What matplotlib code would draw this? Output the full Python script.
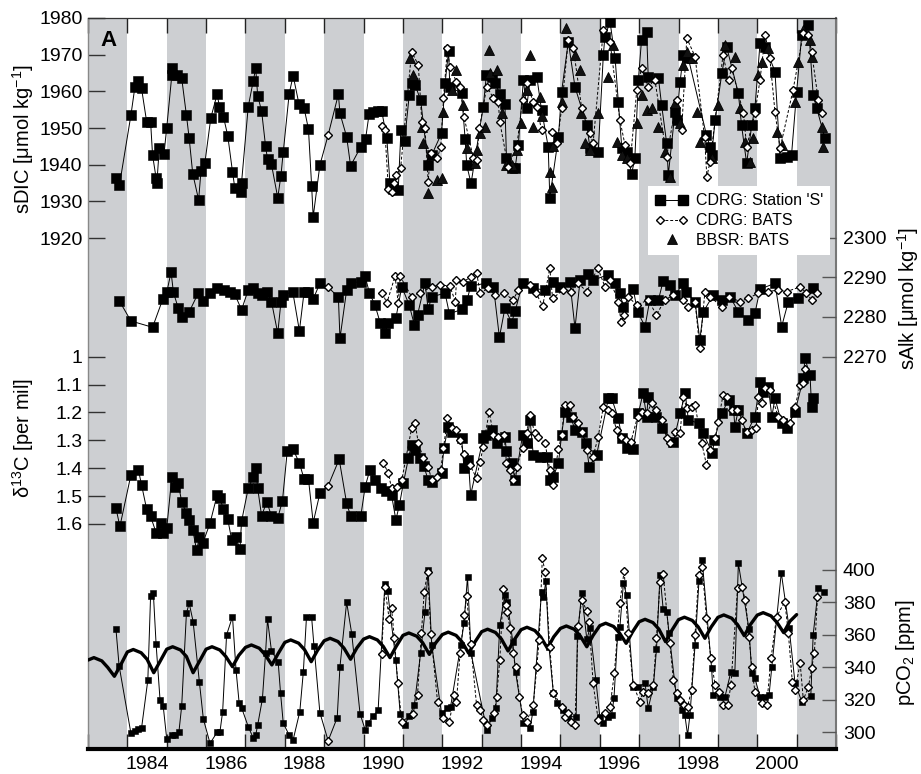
import numpy as np
import matplotlib
matplotlib.use('Agg')
import matplotlib.pyplot as plt
from matplotlib.lines import Line2D
from matplotlib.legend_handler import HandlerLine2D

plt.rcParams['font.family'] = ['Liberation Sans', 'DejaVu Sans']
plt.rcParams['mathtext.fontset'] = 'custom'
plt.rcParams['mathtext.rm'] = 'Liberation Sans'
plt.rcParams['mathtext.it'] = 'Liberation Sans:italic'
plt.rcParams['mathtext.bf'] = 'Liberation Sans:bold'

# ---------------- sDIC ----------------
dic_s_t = [1983.71, 1983.80, 1984.09, 1984.19, 1984.28, 1984.36, 1984.49, 1984.59, 1984.64, 1984.73,
           1984.75, 1984.81, 1984.93, 1985.00, 1985.13, 1985.14, 1985.25, 1985.38, 1985.50, 1985.57,
           1985.66, 1985.81, 1985.87, 1985.97, 1986.12, 1986.28, 1986.34, 1986.44, 1986.55, 1986.67,
           1986.73, 1986.89, 1986.90, 1987.07, 1987.20, 1987.26, 1987.31, 1987.41, 1987.51, 1987.56,
           1987.66, 1987.82, 1987.90, 1987.96, 1988.11, 1988.21, 1988.36, 1988.49, 1988.60, 1988.68,
           1988.72, 1988.89, 1989.36, 1989.40, 1989.57, 1989.67, 1989.93, 1990.05, 1990.14, 1990.25,
           1990.36, 1990.46, 1990.59, 1990.67, 1990.76, 1990.88, 1990.95, 1991.04, 1991.16, 1991.22,
           1991.31, 1991.45, 1991.64, 1991.73, 1991.98, 1992.07, 1992.16, 1992.19, 1992.49, 1992.58,
           1992.62, 1992.73, 1993.04, 1993.12, 1993.25, 1993.34, 1993.46, 1993.59, 1993.63, 1993.76,
           1993.85, 1993.93, 1994.06, 1994.14, 1994.23, 1994.40, 1994.52, 1994.69, 1994.73, 1994.95,
           1995.03, 1995.20, 1995.37, 1995.67, 1995.75, 1995.96, 1996.09, 1996.13, 1996.26, 1996.39,
           1996.47, 1996.56, 1996.68, 1996.81, 1996.89, 1996.98, 1997.06, 1997.19, 1997.23, 1997.49,
           1997.57, 1997.70, 1997.74, 1997.91, 1997.95, 1998.04, 1998.12, 1998.25, 1998.71, 1998.80,
           1998.84, 1998.93, 1999.10, 1999.22, 1999.52, 1999.60, 1999.73, 1999.86, 1999.94, 2000.07,
           2000.20, 2000.45, 2000.58, 2000.75, 2000.87, 2001.00, 2001.13, 2001.30, 2001.42, 2001.51,
           2001.72]
dic_s = [1936.3, 1934.5, 1953.5, 1961.1, 1962.9, 1960.8, 1951.7, 1951.7, 1942.6, 1936.3,
         1935.0, 1944.5, 1942.9, 1950.1, 1964.5, 1966.3, 1964.5, 1963.6, 1953.5, 1947.2,
         1937.6, 1930.4, 1938.3, 1940.6, 1952.8, 1959.2, 1955.8, 1953.1, 1947.9, 1938.1,
         1933.6, 1932.6, 1935.1, 1955.8, 1962.9, 1966.3, 1958.8, 1954.6, 1945.1, 1941.5,
         1940.1, 1931.0, 1937.0, 1943.5, 1959.3, 1964.3, 1956.5, 1955.4, 1949.7, 1934.3,
         1925.8, 1939.9, 1959.2, 1954.0, 1947.6, 1939.7, 1944.9, 1947.0, 1953.8, 1954.4,
         1954.7, 1954.7, 1947.2, 1935.1, 1933.3, 1933.1, 1949.6, 1946.4, 1959.0, 1962.2,
         1961.7, 1957.6, 1939.9, 1942.6, 1948.6, 1962.2, 1971.1, 1961.2, 1959.5, 1946.9,
         1939.9, 1934.9, 1955.8, 1964.5, 1964.0, 1962.2, 1959.3, 1956.5, 1941.7, 1939.0,
         1939.2, 1945.4, 1963.1, 1955.4, 1963.1, 1964.0, 1954.9, 1944.9, 1931.0, 1947.6,
         1959.9, 1973.5, 1961.2, 1950.8, 1944.5, 1943.5, 1969.9, 1974.9, 1979.0, 1969.0,
         1957.2, 1944.5, 1943.5, 1937.6, 1941.7, 1963.1, 1974.0, 1976.3, 1964.0, 1963.6,
         1956.3, 1945.8, 1937.2, 1954.4, 1952.2, 1962.6, 1969.9, 1969.0, 1948.1, 1944.9,
         1942.6, 1952.2, 1964.9, 1972.2, 1959.5, 1950.8, 1940.4, 1950.8, 1955.4, 1973.1,
         1972.2, 1965.4, 1941.7, 1942.2, 1942.6, 1959.9, 1975.4, 1978.1, 1959.0, 1955.4,
         1947.2]

dic_b_t = [1990.48, 1990.54, 1990.63, 1990.71, 1990.78, 1990.82, 1990.94, 1991.22, 1991.39, 1991.48,
           1991.56, 1991.64, 1991.70, 1991.87, 1991.96, 1992.03, 1992.13, 1992.19, 1992.36, 1992.45,
           1992.55, 1992.79, 1992.87, 1992.94, 1993.13, 1993.30, 1993.42, 1993.46, 1993.67, 1993.89,
           1994.04, 1994.14, 1994.31, 1994.40, 1994.52, 1994.78, 1994.92, 1995.03, 1995.20, 1995.33,
           1995.54, 1995.75, 1995.83, 1996.09, 1996.26, 1996.51, 1996.64, 1996.77, 1996.94, 1997.06,
           1997.23, 1997.40, 1997.70, 1997.95, 1998.08, 1998.21, 1998.42, 1998.66, 1998.72, 1998.80,
           1999.13, 1999.27, 1999.35, 1999.65, 1999.73, 1999.94, 2000.07, 2000.20, 2000.32, 2000.45,
           2000.58, 2000.91, 2001.17, 2001.30, 2001.38, 2001.55, 2001.64]
dic_b = [1950.5, 1949.4, 1933.5, 1932.6, 1934.9, 1937.2, 1939.0, 1970.8, 1967.2, 1951.7,
         1949.9, 1935.4, 1943.1, 1941.7, 1944.9, 1958.3, 1971.7, 1966.7, 1962.6, 1961.3,
         1953.1, 1941.7, 1941.3, 1949.9, 1961.3, 1958.1, 1957.2, 1951.7, 1939.5, 1944.9,
         1957.6, 1962.2, 1957.2, 1955.8, 1949.4, 1949.0, 1945.8, 1955.4, 1974.0, 1971.7,
         1955.4, 1948.6, 1945.8, 1976.7, 1973.5, 1952.2, 1945.4, 1940.4, 1960.4, 1966.3,
         1961.3, 1963.1, 1942.2, 1957.6, 1949.4, 1974.5, 1969.5, 1947.6, 1936.7, 1940.8,
         1969.9, 1963.1, 1966.3, 1954.0, 1944.9, 1954.0, 1963.1, 1975.4, 1969.0, 1954.4,
         1944.5, 1960.4, 1975.8, 1975.4, 1970.8, 1957.6, 1954.0]

dic_bbsr_t = [1991.18, 1991.26, 1991.48, 1991.52, 1991.64, 1991.87, 1991.98, 1992.03, 1992.24, 1992.36,
              1992.53, 1992.62, 1992.83, 1992.87, 1992.96, 1993.08, 1993.19, 1993.21, 1993.38, 1993.51,
              1993.63, 1993.76, 1993.89, 1994.01, 1994.14, 1994.23, 1994.31, 1994.48, 1994.53, 1994.73,
              1994.78, 1994.80, 1995.03, 1995.14, 1995.37, 1995.50, 1995.52, 1995.62, 1995.75, 1995.96,
              1996.22, 1996.34, 1996.43, 1996.56, 1996.68, 1996.94, 1997.06, 1997.19, 1997.32, 1997.49,
              1997.65, 1997.78, 1997.91, 1998.04, 1998.12, 1998.21, 1998.33, 1998.46, 1998.54, 1998.84,
              1999.01, 1999.18, 1999.43, 1999.56, 1999.69, 1999.81, 1999.90, 2000.03, 2000.11, 2000.28,
              2000.49, 2000.62, 2000.96, 2001.04, 2001.17, 2001.34, 2001.38, 2001.64, 2001.68]
dic_bbsr = [1969.0, 1964.5, 1950.4, 1945.8, 1932.2, 1935.8, 1936.3, 1954.4, 1960.4, 1965.8,
            1956.3, 1944.5, 1940.4, 1944.0, 1948.6, 1950.4, 1971.3, 1964.9, 1965.8, 1954.0,
            1939.9, 1939.9, 1944.0, 1951.3, 1960.4, 1969.9, 1950.4, 1958.5, 1953.3, 1938.1,
            1934.0, 1945.0, 1957.2, 1977.2, 1969.9, 1965.8, 1954.0, 1945.8, 1944.0, 1954.0,
            1964.0, 1972.6, 1946.3, 1942.6, 1941.7, 1951.3, 1959.0, 1954.9, 1955.4, 1950.4,
            1943.5, 1936.7, 1956.7, 1951.3, 1967.2, 1970.8, 1969.0, 1954.4, 1946.3, 1941.7,
            1956.3, 1972.6, 1969.5, 1955.4, 1946.3, 1940.8, 1947.2, 1964.5, 1968.1, 1971.7,
            1949.0, 1945.4, 1957.2, 1968.1, 1976.7, 1974.0, 1969.5, 1950.4, 1944.9]

# ---------------- sAlk ----------------
alk_s_t = [1983.80, 1984.09, 1984.64, 1984.90, 1985.00, 1985.11, 1985.17, 1985.29, 1985.38, 1985.57,
           1985.80, 1985.93, 1986.10, 1986.28, 1986.46, 1986.61, 1986.73, 1986.90, 1987.07, 1987.20,
           1987.33, 1987.41, 1987.54, 1987.66, 1987.82, 1987.90, 1987.96, 1988.20, 1988.37, 1988.49,
           1988.60, 1988.72, 1988.89, 1989.36, 1989.40, 1989.57, 1989.67, 1989.93, 1990.04, 1990.15,
           1990.29, 1990.42, 1990.54, 1990.63, 1990.82, 1990.97, 1991.16, 1991.29, 1991.37, 1991.56,
           1991.64, 1991.73, 1992.07, 1992.18, 1992.49, 1992.63, 1992.72, 1993.11, 1993.30, 1993.45,
           1993.59, 1993.76, 1993.85, 1994.04, 1994.31, 1994.61, 1994.82, 1994.99, 1995.24, 1995.37,
           1995.50, 1995.71, 1995.83, 1996.20, 1996.39, 1996.51, 1996.60, 1996.85, 1996.96, 1997.15,
           1997.27, 1997.49, 1997.61, 1997.78, 1997.91, 1998.12, 1998.18, 1998.42, 1998.54, 1998.63,
           1998.88, 1999.10, 1999.31, 1999.52, 1999.77, 1999.94, 2000.07, 2000.45, 2000.62, 2000.79,
           2001.04, 2001.42]
alk_s = [2284.0, 2279.0, 2277.4, 2284.5, 2286.2, 2291.3, 2286.2, 2282.3, 2279.9, 2281.3,
         2286.0, 2284.0, 2286.0, 2287.2, 2286.8, 2286.4, 2285.7, 2281.8, 2286.8, 2287.2,
         2286.0, 2285.5, 2286.4, 2283.9, 2275.9, 2283.7, 2285.5, 2286.4, 2276.5, 2286.4,
         2286.4, 2284.5, 2288.5, 2285.0, 2274.6, 2286.8, 2288.6, 2288.9, 2290.2, 2286.0,
         2283.0, 2278.6, 2275.9, 2278.6, 2279.7, 2287.6, 2283.0, 2278.0, 2280.5, 2288.6,
         2281.9, 2285.1, 2286.0, 2280.8, 2281.9, 2284.3, 2287.8, 2288.5, 2287.6, 2274.9,
         2282.2, 2278.6, 2281.5, 2288.5, 2287.2, 2286.8, 2288.9, 2287.6, 2288.9, 2277.2,
         2289.3, 2290.8, 2289.3, 2290.6, 2288.5, 2286.0, 2282.6, 2287.0, 2281.3, 2277.6,
         2284.3, 2284.3, 2289.1, 2288.1, 2285.5, 2288.5, 2286.4, 2283.9, 2274.2, 2281.3,
         2285.5, 2284.3, 2285.1, 2281.3, 2279.2, 2280.9, 2287.0, 2288.5, 2277.6, 2283.9,
         2284.7, 2287.2]

alk_b_t = [1990.48, 1990.59, 1990.80, 1990.88, 1990.93, 1991.22, 1991.43, 1991.73, 1991.94, 1992.19,
           1992.33, 1992.36, 1992.53, 1992.72, 1992.87, 1992.96, 1993.17, 1993.34, 1993.57, 1993.80,
           1993.93, 1994.23, 1994.38, 1994.55, 1994.73, 1994.80, 1995.07, 1995.28, 1995.45, 1995.67,
           1995.95, 1996.13, 1996.26, 1996.47, 1996.54, 1996.62, 1996.72, 1996.94, 1997.23, 1997.44,
           1997.65, 1997.87, 1998.12, 1998.25, 1998.42, 1998.54, 1998.67, 1998.80, 1999.10, 1999.27,
           1999.56, 1999.77, 2000.03, 2000.28, 2000.53, 2000.75, 2001.09, 2001.25, 2001.38, 2001.53]
alk_b = [2286.0, 2283.5, 2290.3, 2283.5, 2290.2, 2285.1, 2286.0, 2287.6, 2288.1, 2287.8,
         2283.9, 2289.3, 2288.9, 2290.0, 2291.2, 2286.1, 2287.2, 2285.5, 2286.0, 2284.3,
         2286.8, 2288.1, 2286.0, 2282.8, 2292.3, 2284.7, 2286.8, 2286.4, 2288.5, 2286.4,
         2292.4, 2287.6, 2289.3, 2283.9, 2278.8, 2280.5, 2285.1, 2283.0, 2284.3, 2280.5,
         2284.3, 2285.5, 2284.3, 2282.6, 2283.9, 2272.1, 2286.4, 2285.1, 2282.6, 2285.1,
         2283.9, 2284.7, 2286.0, 2286.4, 2286.8, 2286.4, 2287.6, 2286.0, 2284.3, 2286.0]

# ---------------- d13C ----------------
c13_s_t = [1983.71, 1983.81, 1984.09, 1984.28, 1984.36, 1984.49, 1984.59, 1984.73, 1984.85, 1984.91,
           1985.00, 1985.13, 1985.21, 1985.29, 1985.38, 1985.50, 1985.57, 1985.66, 1985.76, 1985.83,
           1985.92, 1986.10, 1986.28, 1986.35, 1986.44, 1986.55, 1986.65, 1986.75, 1986.86, 1986.90,
           1987.07, 1987.20, 1987.26, 1987.31, 1987.41, 1987.54, 1987.66, 1987.82, 1987.94, 1988.06,
           1988.21, 1988.37, 1988.49, 1988.60, 1988.72, 1988.89, 1989.38, 1989.57, 1989.67, 1989.93,
           1990.04, 1990.16, 1990.29, 1990.44, 1990.57, 1990.71, 1990.82, 1990.91, 1991.01, 1991.14,
           1991.22, 1991.31, 1991.43, 1991.53, 1991.64, 1991.73, 1991.98, 1992.04, 1992.15, 1992.24,
           1992.49, 1992.55, 1992.66, 1992.72, 1993.04, 1993.12, 1993.25, 1993.38, 1993.59, 1993.63,
           1993.76, 1993.85, 1994.04, 1994.14, 1994.23, 1994.31, 1994.48, 1994.65, 1994.73, 1994.82,
           1994.95, 1995.03, 1995.11, 1995.26, 1995.37, 1995.54, 1995.65, 1995.73, 1995.92, 1996.22,
           1996.30, 1996.47, 1996.56, 1996.68, 1996.85, 1996.98, 1997.10, 1997.19, 1997.23, 1997.44,
           1997.57, 1997.87, 1998.04, 1998.17, 1998.25, 1998.52, 1998.63, 1998.86, 1998.91, 1999.10,
           1999.27, 1999.40, 1999.43, 1999.52, 1999.73, 1999.94, 2000.07, 2000.15, 2000.28, 2000.37,
           2000.45, 2000.62, 2000.75, 2000.96, 2001.17, 2001.21, 2001.34, 2001.38, 2001.42]
c13_s = [1.543, 1.609, 1.424, 1.406, 1.460, 1.547, 1.573, 1.631, 1.597, 1.631,
         1.615, 1.430, 1.466, 1.454, 1.520, 1.561, 1.585, 1.621, 1.695, 1.645,
         1.667, 1.597, 1.496, 1.508, 1.547, 1.583, 1.657, 1.645, 1.690, 1.591,
         1.472, 1.430, 1.400, 1.472, 1.571, 1.520, 1.571, 1.579, 1.516, 1.340,
         1.332, 1.382, 1.439, 1.439, 1.595, 1.490, 1.368, 1.526, 1.571, 1.571,
         1.466, 1.406, 1.442, 1.472, 1.480, 1.496, 1.585, 1.532, 1.454, 1.364,
         1.316, 1.334, 1.364, 1.392, 1.442, 1.451, 1.418, 1.328, 1.251, 1.269,
         1.292, 1.400, 1.370, 1.496, 1.292, 1.281, 1.263, 1.310, 1.287, 1.340,
         1.382, 1.442, 1.281, 1.310, 1.227, 1.352, 1.358, 1.358, 1.442, 1.430,
         1.382, 1.281, 1.197, 1.215, 1.263, 1.269, 1.308, 1.394, 1.352, 1.149,
         1.149, 1.221, 1.292, 1.328, 1.332, 1.203, 1.131, 1.215, 1.143, 1.215,
         1.257, 1.305, 1.203, 1.131, 1.227, 1.239, 1.275, 1.346, 1.299, 1.203,
         1.155, 1.191, 1.251, 1.191, 1.275, 1.215, 1.090, 1.125, 1.108, 1.215,
         1.149, 1.239, 1.257, 1.197, 1.078, 1.006, 1.066, 1.179, 1.149]

c13_b_t = [1990.50, 1990.63, 1990.71, 1990.84, 1990.97, 1991.22, 1991.31, 1991.39, 1991.52, 1991.64,
           1991.73, 1991.87, 1991.96, 1992.03, 1992.13, 1992.24, 1992.36, 1992.45, 1992.55, 1992.70,
           1992.87, 1992.96, 1993.04, 1993.19, 1993.30, 1993.42, 1993.57, 1993.63, 1993.72, 1993.80,
           1993.89, 1994.04, 1994.14, 1994.23, 1994.35, 1994.44, 1994.61, 1994.73, 1994.80, 1994.95,
           1995.03, 1995.11, 1995.24, 1995.33, 1995.45, 1995.54, 1995.67, 1995.83, 1995.96, 1996.09,
           1996.22, 1996.30, 1996.43, 1996.54, 1996.66, 1996.79, 1996.96, 1997.06, 1997.19, 1997.32,
           1997.44, 1997.57, 1997.70, 1997.78, 1997.91, 1998.04, 1998.12, 1998.21, 1998.33, 1998.42,
           1998.59, 1998.71, 1998.80, 1998.93, 1999.01, 1999.13, 1999.22, 1999.35, 1999.48, 1999.60,
           1999.73, 1999.86, 1999.97, 2000.03, 2000.11, 2000.20, 2000.32, 2000.53, 2000.66, 2000.83,
           2000.96, 2001.09, 2001.17, 2001.21]
c13_b = [1.380, 1.418, 1.472, 1.466, 1.442, 1.257, 1.239, 1.310, 1.364, 1.394,
         1.442, 1.430, 1.406, 1.328, 1.221, 1.257, 1.263, 1.299, 1.349, 1.388,
         1.436, 1.376, 1.323, 1.197, 1.281, 1.287, 1.281, 1.382, 1.406, 1.442,
         1.394, 1.328, 1.275, 1.209, 1.275, 1.287, 1.310, 1.406, 1.460, 1.332,
         1.281, 1.173, 1.173, 1.215, 1.239, 1.269, 1.334, 1.358, 1.287, 1.179,
         1.191, 1.203, 1.263, 1.287, 1.299, 1.305, 1.215, 1.197, 1.203, 1.167,
         1.191, 1.227, 1.292, 1.310, 1.269, 1.275, 1.143, 1.185, 1.179, 1.173,
         1.310, 1.388, 1.334, 1.292, 1.233, 1.137, 1.143, 1.191, 1.191, 1.227,
         1.269, 1.263, 1.257, 1.143, 1.167, 1.113, 1.119, 1.215, 1.227, 1.239,
         1.179, 1.101, 1.095, 1.045]

# ---------------- pCO2 ----------------
pco2_s_t = [1983.71, 1983.79, 1984.09, 1984.19, 1984.28, 1984.36, 1984.52, 1984.59, 1984.66, 1984.73,
            1984.83, 1984.91, 1985.00, 1985.13, 1985.21, 1985.31, 1985.38, 1985.50, 1985.57, 1985.67,
            1985.83, 1985.93, 1986.10, 1986.28, 1986.35, 1986.42, 1986.52, 1986.67, 1986.76, 1986.84,
            1986.90, 1987.07, 1987.20, 1987.26, 1987.31, 1987.43, 1987.51, 1987.56, 1987.66, 1987.83,
            1987.89, 1987.96, 1988.11, 1988.21, 1988.38, 1988.47, 1988.55, 1988.68, 1988.74, 1988.89,
            1989.33, 1989.40, 1989.57, 1989.70, 1989.91, 1990.04, 1990.12, 1990.25, 1990.37, 1990.54,
            1990.61, 1990.82, 1990.93, 1991.04, 1991.16, 1991.29, 1991.45, 1991.56, 1991.64, 1991.73,
            1991.98, 1992.13, 1992.21, 1992.47, 1992.55, 1992.64, 1992.73, 1993.13, 1993.25, 1993.36,
            1993.46, 1993.59, 1993.65, 1993.79, 1993.86, 1994.06, 1994.23, 1994.30, 1994.52, 1994.57,
            1994.63, 1994.71, 1994.82, 1994.92, 1995.07, 1995.20, 1995.40, 1995.43, 1995.54, 1995.67,
            1995.75, 1995.90, 1996.00, 1996.09, 1996.22, 1996.30, 1996.36, 1996.45, 1996.51, 1996.60,
            1996.68, 1996.85, 1996.98, 1997.15, 1997.23, 1997.36, 1997.44, 1997.53, 1997.61, 1997.70,
            1997.76, 1997.95, 1998.08, 1998.16, 1998.23, 1998.29, 1998.42, 1998.52, 1998.60, 1998.84,
            1998.88, 1999.05, 1999.18, 1999.33, 1999.43, 1999.52, 1999.79, 1999.86, 1999.94, 2000.07,
            2000.20, 2000.30, 2000.37, 2000.61, 2000.81, 2000.96, 2001.13, 2001.36, 2001.42, 2001.55,
            2001.70]
pco2_s = [363.6, 341.0, 299.4, 301.0, 301.8, 302.5, 332.2, 384.2, 385.6, 354.2,
          319.9, 316.2, 295.9, 298.3, 298.3, 300.4, 316.2, 373.3, 379.5, 368.2,
          330.8, 308.2, 293.2, 300.0, 300.0, 312.7, 360.0, 371.2, 338.4, 317.9,
          315.2, 303.5, 296.3, 298.3, 304.5, 320.5, 348.7, 369.6, 350.1, 343.5,
          324.4, 305.5, 298.3, 295.3, 312.7, 337.3, 371.2, 370.9, 353.2, 312.1,
          309.0, 340.4, 380.1, 360.6, 311.5, 301.6, 306.0, 310.1, 313.7, 391.2,
          386.8, 344.5, 311.5, 304.5, 310.0, 316.8, 349.1, 374.3, 400.2, 353.8,
          311.7, 314.8, 315.8, 353.8, 367.2, 395.9, 348.7, 301.4, 308.6, 314.8,
          366.1, 384.6, 380.5, 355.8, 337.3, 305.9, 302.5, 312.7, 386.6, 383.2,
          393.2, 352.4, 324.4, 317.9, 313.7, 309.6, 309.6, 359.3, 385.6, 357.3,
          364.1, 332.2, 309.6, 305.5, 309.6, 310.7, 320.9, 358.9, 364.7, 391.8,
          384.6, 328.1, 328.1, 330.2, 314.8, 328.1, 351.1, 396.9, 375.8, 374.3,
          361.0, 320.9, 313.7, 310.7, 298.3, 310.7, 353.8, 393.4, 406.2, 339.4,
          323.0, 321.9, 321.9, 337.3, 336.4, 404.1, 363.5, 336.4, 333.3, 321.9,
          321.9, 323.0, 340.4, 398.3, 364.1, 330.2, 318.9, 322.4, 360.0, 388.7,
          386.6]

pco2_b_t = [1990.46, 1990.54, 1990.65, 1990.71, 1990.78, 1990.87, 1990.97, 1991.25, 1991.37, 1991.47,
            1991.54, 1991.63, 1991.71, 1991.88, 1992.01, 1992.18, 1992.30, 1992.36, 1992.45, 1992.56,
            1992.62, 1992.72, 1992.87, 1992.96, 1993.04, 1993.13, 1993.32, 1993.38, 1993.46, 1993.55,
            1993.61, 1993.65, 1993.72, 1993.79, 1993.86, 1993.96, 1994.04, 1994.14, 1994.31, 1994.40,
            1994.46, 1994.54, 1994.61, 1994.73, 1994.82, 1995.03, 1995.11, 1995.20, 1995.28, 1995.37,
            1995.45, 1995.54, 1995.67, 1995.73, 1995.83, 1995.96, 1996.13, 1996.26, 1996.37, 1996.51,
            1996.62, 1996.72, 1996.85, 1997.02, 1997.10, 1997.23, 1997.36, 1997.44, 1997.53, 1997.61,
            1997.78, 1997.87, 1997.95, 1998.04, 1998.15, 1998.23, 1998.33, 1998.42, 1998.51, 1998.60,
            1998.71, 1998.82, 1998.93, 1999.03, 1999.14, 1999.25, 1999.33, 1999.50, 1999.60, 1999.70,
            1999.79, 1999.86, 1999.94, 2000.11, 2000.24, 2000.35, 2000.49, 2000.70, 2000.79, 2000.89,
            2000.96, 2001.09, 2001.17, 2001.30, 2001.38, 2001.45, 2001.53]
pco2_b = [348.1, 389.7, 369.6, 376.4, 357.9, 330.2, 306.5, 311.3, 323.0, 361.4,
          386.6, 399.0, 360.4, 318.5, 308.6, 306.5, 323.0, 318.9, 348.7, 372.3,
          384.0, 354.4, 316.8, 313.7, 307.6, 304.5, 311.7, 321.9, 344.5, 388.1,
          378.4, 373.9, 364.1, 348.7, 340.4, 321.9, 310.7, 306.5, 316.8, 340.4,
          356.9, 407.2, 399.0, 352.7, 324.4, 315.8, 309.6, 311.7, 306.5, 304.5,
          365.5, 381.5, 374.9, 368.2, 330.2, 307.6, 311.7, 315.8, 336.4, 379.9,
          399.6, 361.0, 329.1, 318.9, 325.0, 324.0, 329.1, 357.9, 392.8, 397.3,
          354.8, 332.2, 324.0, 319.9, 316.8, 315.8, 326.1, 360.0, 396.9, 402.1,
          370.2, 345.6, 329.1, 325.0, 316.8, 316.8, 329.1, 388.7, 389.7, 381.5,
          358.9, 340.4, 325.0, 317.9, 316.8, 345.6, 371.2, 380.5, 361.0, 331.2,
          326.1, 342.5, 320.0, 328.1, 339.4, 348.7, 383.2]

# atmospheric pCO2 (thick line), 6 readings per year
atm_t = [1983.0, 1983.15, 1983.35, 1983.5, 1983.67, 1983.83,
         1984.0, 1984.15, 1984.35, 1984.5, 1984.67, 1984.83,
         1985.0, 1985.15, 1985.35, 1985.5, 1985.67, 1985.83,
         1986.0, 1986.15, 1986.35, 1986.5, 1986.67, 1986.83,
         1987.0, 1987.15, 1987.35, 1987.5, 1987.67, 1987.83,
         1988.0, 1988.15, 1988.35, 1988.5, 1988.67, 1988.83,
         1989.0, 1989.15, 1989.35, 1989.5, 1989.67, 1989.83,
         1990.0, 1990.15, 1990.35, 1990.5, 1990.67, 1990.83,
         1991.0, 1991.15, 1991.35, 1991.5, 1991.67, 1991.83,
         1992.0, 1992.15, 1992.35, 1992.5, 1992.67, 1992.83,
         1993.0, 1993.15, 1993.35, 1993.5, 1993.67, 1993.83,
         1994.0, 1994.15, 1994.35, 1994.5, 1994.67, 1994.83,
         1995.0, 1995.15, 1995.35, 1995.5, 1995.67, 1995.83,
         1996.0, 1996.15, 1996.35, 1996.5, 1996.67, 1996.83,
         1997.0, 1997.15, 1997.35, 1997.5, 1997.67, 1997.83,
         1998.0, 1998.15, 1998.35, 1998.5, 1998.67, 1998.83,
         1999.0, 1999.15, 1999.35, 1999.5, 1999.67, 1999.83,
         2000.0, 2000.15, 2000.35, 2000.5, 2000.67, 2000.83,
         2001.0]
atm = [344.5, 346.0, 344.0, 340.0, 334.5, 341.5,
       349.5, 351.0, 349.0, 345.0, 336.7, 343.7,
       351.2, 352.7, 350.7, 346.7, 336.7, 343.7,
       351.2, 352.7, 350.7, 346.7, 340.4, 347.4,
       352.3, 353.8, 351.8, 347.8, 341.5, 348.5,
       355.4, 356.9, 354.9, 350.9, 343.5, 350.5,
       356.4, 357.9, 355.9, 351.9, 345.0, 352.0,
       357.4, 358.9, 356.9, 352.9, 346.0, 353.0,
       359.7, 361.2, 359.2, 355.2, 348.0, 355.0,
       360.2, 361.7, 359.7, 355.7, 348.7, 355.7,
       362.0, 363.5, 361.5, 357.5, 350.1, 357.1,
       363.2, 364.7, 362.7, 358.7, 351.8, 358.8,
       364.0, 365.5, 363.5, 359.5, 352.7, 359.7,
       365.7, 367.2, 365.2, 361.2, 354.8, 361.8,
       368.1, 369.6, 367.6, 363.6, 355.8, 362.8,
       369.4, 370.9, 368.9, 364.9, 357.9, 364.9,
       370.8, 372.3, 370.3, 366.3, 359.5, 366.5,
       372.2, 373.7, 371.7, 367.7, 361.4, 368.4,
       372.5]

# single BATS sample in 1989 that sits on the Station 'S' line
odd_t = 1989.10
odd_dic, odd_alk, odd_c13, odd_pco2 = 1948.1, 2287.5, 1.463, 294.8

years_lab = list(range(1984, 2001, 2))

# ---------------- figure ----------------
fig = plt.figure(figsize=(9.21, 7.74), dpi=100)
ax = fig.add_axes([88 / 921, 25 / 774, 748 / 921, 731 / 774])
ax_alk = ax.twinx()
ax_c13 = ax.twinx()
ax_pco2 = ax.twinx()

band = '#cdcfd2'
for y in range(1983, 2002, 2):
    ax.axvspan(y, y + 1, color=band, lw=0, zorder=0)

ax.set_xlim(1983, 2002)
ax.set_ylim(1780.7, 1980)
ax_alk.set_ylim(2171.2, 2355.3)
ax_c13.set_ylim(2.4071, -0.2148)
ax_pco2.set_ylim(289.7, 740.1)

lw = 0.7


def station(a, t, v, ov, ms):
    # line goes through the odd 1989 sample as well
    tt = np.append(t, odd_t)
    vv = np.append(v, ov)
    o = np.argsort(tt)
    a.plot(tt[o], vv[o], '-', color='k', lw=lw, zorder=2)
    a.plot(t, v, 's', color='k', ms=ms, mew=0.4, zorder=4)
    a.plot([odd_t], [ov], 'D', mfc='white', mec='k', ms=3.8, mew=1.0, zorder=6)


def bats(a, t, v):
    a.plot(t, v, '--', color='k', lw=lw, dashes=(3, 2), zorder=3)
    a.plot(t, v, 'D', mfc='white', mec='k', ms=3.8, mew=1.0, zorder=6)


station(ax, dic_s_t, dic_s, odd_dic, 7)
bats(ax, dic_b_t, dic_b)
ax.plot(dic_bbsr_t, dic_bbsr, '^', mfc='#111111', mec='k', ms=7.5, mew=0.6, zorder=5)

station(ax_alk, alk_s_t, alk_s, odd_alk, 6.5)
bats(ax_alk, alk_b_t, alk_b)

station(ax_c13, c13_s_t, c13_s, odd_c13, 6.5)
bats(ax_c13, c13_b_t, c13_b)

ax_pco2.plot(atm_t, atm, '-', color='k', lw=2.4, zorder=1, solid_capstyle='round')
station(ax_pco2, pco2_s_t, pco2_s, odd_pco2, 4.5)
bats(ax_pco2, pco2_b_t, pco2_b)

# ticks
ax.set_yticks([1920, 1930, 1940, 1950, 1960, 1970, 1980])
ax_alk.set_yticks([2270, 2280, 2290, 2300])
ax_c13.set_yticks([1, 1.1, 1.2, 1.3, 1.4, 1.5, 1.6])
ax_c13.set_yticklabels(['1', '1.1', '1.2', '1.3', '1.4', '1.5', '1.6'])
ax_pco2.set_yticks([300, 320, 340, 360, 380, 400])

ax_c13.yaxis.tick_left()
for a in (ax, ax_c13):
    a.tick_params(axis='y', direction='in', length=12, width=1, color='#333333',
                  labelsize=14, pad=4)
for a in (ax_alk, ax_pco2):
    a.tick_params(axis='y', direction='in', length=10, width=1, color='#555555',
                  labelsize=14, pad=5)

ax.set_xticks(range(1983, 2003))
ax.set_xticks([y + 0.5 for y in years_lab], minor=True)
ax.set_xticklabels([str(y) for y in years_lab], minor=True)
ax.tick_params(axis='x', which='major', direction='in', length=11, width=1,
               top=True, bottom=True, labelbottom=False, color='#222222')
ax.tick_params(axis='x', which='minor', length=0, labelsize=14, pad=5)

for a in (ax_alk, ax_c13, ax_pco2):
    for s in a.spines.values():
        s.set_visible(False)
ax.spines['left'].set_color('#888888')
ax.spines['left'].set_linewidth(1.0)
ax.spines['top'].set_color('#333333')
ax.spines['top'].set_linewidth(0.9)
ax.spines['right'].set_visible(True)
ax.spines['right'].set_color('#777777')
ax.spines['right'].set_linewidth(1.5)
ax.spines['bottom'].set_color('black')
ax.spines['bottom'].set_linewidth(3.0)

# axis labels
fig.text(23 / 921, 1 - 139 / 774, r'sDIC [μmol kg$^{-1}$]', rotation=90,
         ha='center', va='center', fontsize=14.5)
fig.text(23 / 921, 1 - 438 / 774, r'δ$^{13}$C [per mil]', rotation=90,
         ha='center', va='center', fontsize=14.5)
fig.text(908 / 921, 1 - 298 / 774, r'sAlk [μmol kg$^{-1}$]', rotation=90,
         ha='center', va='center', fontsize=14.5)
fig.text(905 / 921, 1 - 653 / 774, r'pCO$_2$ [ppm]', rotation=90,
         ha='center', va='center', fontsize=14.5)
fig.text(108 / 921, 1 - 41 / 774, 'A', fontsize=16, fontweight='bold',
         ha='center', va='center')

# legend
h1 = Line2D([], [], color='k', lw=lw, marker='s', ms=7)
h2 = Line2D([], [], color='k', lw=lw, ls='--', dashes=(3, 2), marker='D', ms=3.8,
            mfc='white', mec='k', mew=1.0)
h3 = Line2D([], [], ls='none', marker='^', ms=7.5, mfc='#111111', mec='k', mew=0.6)
leg = ax_pco2.legend([h1, h2, h3], ["CDRG: Station 'S'", 'CDRG: BATS', 'BBSR: BATS'],
                     handler_map={h3: HandlerLine2D(numpoints=1)}, numpoints=2,
                     loc='upper right', bbox_to_anchor=(0.992, 0.770),
                     frameon=True, fancybox=False, framealpha=1, edgecolor='none',
                     facecolor='white', fontsize=11.5, handlelength=2.0,
                     handletextpad=0.5, labelspacing=0.3, borderpad=0.45,
                     borderaxespad=0)
leg.set_zorder(20)

fig.savefig('out.png', dpi=100)
